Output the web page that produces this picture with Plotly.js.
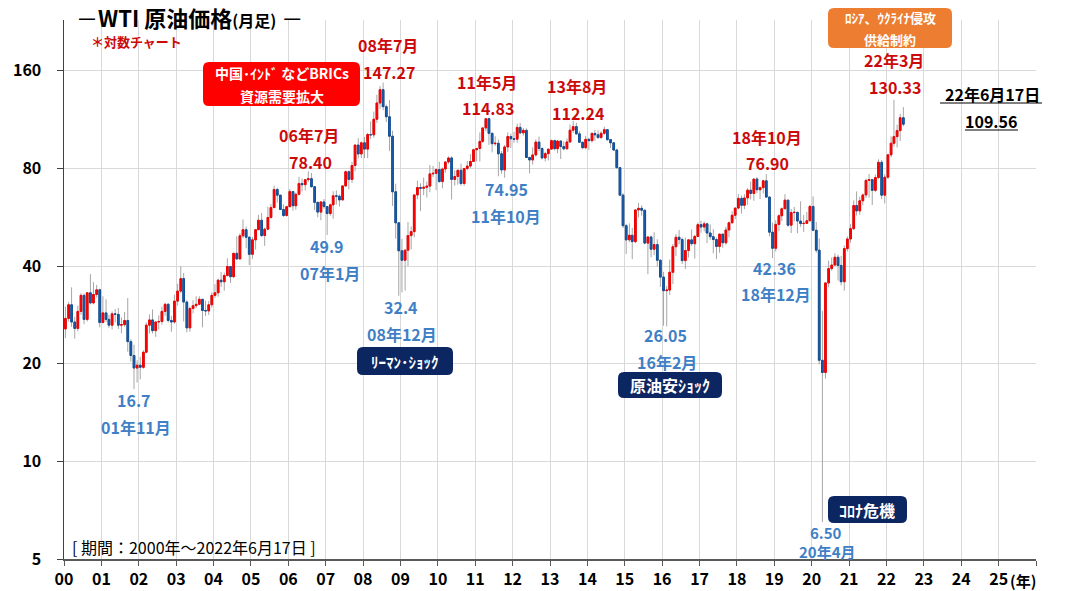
<!DOCTYPE html>
<html>
<head>
<meta charset="utf-8">
<script src="https://cdn.plot.ly/plotly-3.0.1.min.js"></script>
<style>
  body { margin: 0; background: #fff; }
  #chart { width: 1071px; height: 591px; }
</style>
</head>
<body>
<div id="chart"></div>
<script>
// WTI monthly candles, 2000-01 .. 2022-06
var openP = [
  25.6, 27.6, 30.4, 26.9, 25.7, 29.0, 32.5, 27.4, 33.1, 30.8, 32.7, 33.8, // 2000
  26.8, 28.7, 27.4, 26.3, 28.5, 28.4, 26.3, 26.4, 27.2, 23.4, 21.2, 19.4, // 2001
  19.8, 19.5, 21.7, 26.3, 27.3, 25.3, 26.9, 27.0, 29.0, 30.5, 27.2, 26.9, // 2002
  31.2, 33.5, 36.6, 31.0, 25.8, 29.6, 30.2, 30.5, 31.6, 29.2, 29.1, 30.4, // 2003
  32.5, 33.1, 36.2, 35.8, 37.4, 39.9, 37.1, 43.8, 42.1, 49.6, 51.8, 49.1, // 2004
  43.5, 48.2, 51.8, 55.4, 49.7, 52.0, 56.5, 60.6, 68.9, 66.2, 59.8, 57.3, // 2005
  61.0, 67.9, 61.4, 66.6, 71.9, 71.3, 73.9, 74.4, 70.3, 62.9, 58.7, 63.1, // 2006
  61.05, 58.1, 61.8, 65.9, 65.7, 64.0, 70.7, 78.2, 74.0, 81.7, 94.5, 88.7, // 2007
  96.0, 91.8, 101.8, 101.6, 113.5, 127.4, 140.0, 124.1, 115.5, 100.6, 67.8, 54.4, // 2008
  44.6, 41.7, 44.8, 49.7, 51.1, 66.3, 69.9, 69.5, 70.0, 70.6, 77.0, 77.3, // 2009
  79.4, 72.9, 79.7, 83.8, 86.2, 74.0, 75.6, 79.0, 71.9, 80.0, 81.4, 84.1, // 2010
  91.4, 92.2, 97.0, 106.7, 113.9, 102.7, 95.4, 95.7, 88.8, 79.2, 93.2, 100.4, // 2011
  98.8, 98.5, 107.1, 103.0, 104.9, 86.5, 85.0, 88.1, 96.5, 92.2, 86.2, 88.9, // 2012
  91.8, 97.5, 92.1, 97.2, 93.5, 92.0, 96.6, 105.0, 107.7, 102.3, 96.4, 92.7, // 2013
  98.4, 97.5, 102.6, 101.6, 99.7, 102.7, 105.4, 98.2, 96.0, 91.2, 80.5, 66.2, // 2014
  53.3, 48.2, 49.8, 47.6, 59.6, 60.3, 59.5, 47.1, 49.2, 45.1, 46.6, 41.7, // 2015
  37.0, 33.6, 33.75, 38.3, 45.9, 49.1, 48.3, 41.6, 44.7, 48.2, 46.9, 49.4, // 2016
  53.7, 52.8, 54.0, 50.6, 49.3, 48.3, 46.0, 50.2, 47.2, 51.7, 54.4, 57.4, // 2017
  60.4, 64.7, 61.6, 64.9, 68.6, 67.0, 74.2, 68.8, 69.8, 73.3, 65.3, 50.9, // 2018
  45.4, 53.8, 57.2, 60.1, 63.9, 53.5, 58.5, 58.6, 55.1, 54.1, 54.2, 55.2, // 2019
  61.1, 51.6, 44.8, 20.5, 18.8, 35.5, 39.3, 40.3, 42.6, 40.2, 35.8, 45.3, // 2020
  48.5, 52.2, 61.5, 59.2, 63.6, 66.3, 73.5, 73.95, 68.5, 75.0, 83.6, 66.2, // 2021
  75.2, 88.15, 95.7, 100.3, 104.7, 114.7                                   // 2022
];
var highP = [
  30.0, 31.0, 34.4, 27.9, 30.2, 33.0, 32.9, 33.3, 37.8, 35.7, 35.0, 34.1,
  32.3, 31.6, 28.3, 29.0, 29.5, 29.7, 27.8, 28.9, 31.9, 23.8, 22.9, 20.5,
  21.0, 22.0, 26.8, 28.4, 29.4, 27.1, 28.2, 30.0, 30.8, 30.8, 28.1, 32.7,
  35.3, 39.99, 38.1, 31.4, 30.0, 31.4, 32.3, 32.3, 31.6, 31.3, 31.2, 33.2,
  35.2, 36.6, 38.4, 38.2, 42.3, 40.0, 44.0, 49.4, 50.5, 55.7, 53.0, 49.5,
  49.2, 52.1, 57.6, 58.3, 52.6, 60.95, 62.1, 70.85, 69.8, 66.2, 62.0, 61.4,
  69.2, 68.1, 67.4, 75.4, 74.5, 74.2, 78.4, 77.5, 70.4, 63.2, 62.2, 64.4,
  61.1, 62.4, 68.1, 68.5, 66.6, 70.8, 78.8, 78.8, 83.9, 94.7, 99.3, 97.0,
  100.1, 103.0, 111.8, 119.9, 135.1, 143.7, 147.27, 126.0, 130.0, 104.6, 71.8, 54.7,
  48.6, 45.0, 54.7, 53.0, 66.4, 73.4, 72.0, 75.0, 72.9, 82.0, 81.5, 80.0,
  83.95, 80.5, 83.9, 87.2, 87.2, 79.0, 79.3, 82.8, 80.0, 84.4, 88.6, 92.1,
  92.6, 103.4, 106.9, 113.9, 114.83, 103.2, 100.6, 98.3, 90.5, 94.6, 103.4, 102.4,
  103.7, 110.0, 110.6, 106.6, 106.4, 87.0, 92.9, 98.3, 100.4, 93.0, 90.0, 91.0,
  98.2, 98.2, 97.8, 97.8, 97.0, 99.0, 109.3, 112.24, 110.7, 104.4, 96.5, 100.8,
  99.4, 103.6, 105.2, 104.9, 104.2, 107.7, 105.8, 98.7, 96.4, 92.1, 80.7, 67.1,
  54.0, 54.2, 52.5, 59.9, 62.6, 61.6, 59.7, 49.3, 49.7, 50.9, 48.4, 42.0,
  38.4, 34.7, 41.9, 46.8, 50.2, 51.7, 49.0, 49.0, 48.3, 51.9, 49.9, 54.5,
  55.2, 54.9, 54.4, 53.8, 52.0, 49.0, 50.4, 50.4, 52.9, 54.9, 59.05, 60.5,
  66.7, 66.0, 66.6, 69.6, 72.9, 74.5, 75.3, 70.4, 73.9, 76.9, 65.7, 54.55,
  55.4, 57.8, 60.7, 66.6, 63.9, 60.0, 60.9, 58.8, 63.4, 57.5, 58.8, 61.8,
  65.65, 54.7, 48.7, 29.1, 35.6, 41.6, 42.5, 43.8, 43.4, 43.0, 46.3, 49.4,
  53.9, 63.8, 67.98, 65.5, 67.0, 74.45, 76.98, 74.0, 76.7, 85.4, 84.97, 76.8,
  88.8, 100.5, 130.33, 109.2, 118.0, 123.7
];
var lowP = [
  24.0, 27.0, 26.0, 23.9, 25.2, 28.3, 26.5, 27.0, 30.5, 30.5, 32.0, 25.9,
  26.6, 26.9, 25.8, 25.5, 26.8, 25.6, 24.8, 26.0, 21.8, 20.3, 16.7, 17.5,
  17.9, 19.3, 21.7, 24.8, 24.8, 24.2, 25.5, 26.4, 28.1, 26.8, 25.1, 26.6,
  30.2, 33.0, 27.0, 25.0, 25.1, 28.6, 29.7, 30.3, 25.9, 28.1, 28.3, 29.8,
  31.9, 32.2, 34.5, 33.6, 37.2, 35.5, 36.8, 41.8, 42.0, 48.8, 45.4, 40.3,
  42.1, 45.0, 51.7, 49.2, 46.2, 51.6, 56.0, 60.5, 62.8, 59.7, 56.7, 56.8,
  60.9, 59.3, 59.7, 66.0, 68.0, 68.5, 72.8, 69.9, 59.5, 56.6, 55.4, 60.1,
  49.9, 57.2, 56.0, 61.9, 61.1, 63.8, 70.1, 69.0, 72.2, 78.5, 86.0, 86.2,
  86.1, 86.1, 98.7, 99.5, 110.6, 122.3, 121.0, 111.3, 90.5, 61.3, 48.6, 32.4,
  33.2, 33.6, 40.0, 45.0, 49.1, 64.3, 59.1, 66.2, 65.1, 67.6, 75.2, 68.6,
  72.4, 69.5, 77.6, 82.6, 64.2, 70.8, 71.3, 70.8, 70.8, 79.0, 80.2, 84.0,
  84.0, 84.1, 95.9, 104.3, 94.6, 89.7, 94.0, 75.7, 77.1, 74.95, 89.9, 92.5,
  96.0, 96.0, 102.2, 101.0, 86.3, 77.3, 82.3, 87.1, 90.5, 85.3, 84.1, 84.7,
  91.8, 90.9, 89.2, 85.6, 91.0, 91.7, 95.9, 103.0, 101.6, 95.9, 91.8, 91.9,
  91.2, 96.2, 97.4, 98.6, 98.6, 101.5, 97.4, 92.5, 90.6, 79.8, 65.7, 52.4,
  43.6, 47.4, 42.0, 47.1, 56.5, 57.2, 46.7, 37.75, 42.6, 43.2, 39.9, 34.5,
  26.2, 26.05, 32.6, 35.2, 43.0, 46.7, 40.6, 39.2, 42.5, 46.2, 42.2, 49.3,
  50.7, 51.2, 47.1, 48.2, 43.8, 42.05, 44.0, 45.6, 46.6, 49.1, 54.2, 55.8,
  59.9, 58.1, 59.95, 61.8, 64.2, 63.6, 67.0, 64.4, 67.0, 64.9, 49.4, 42.36,
  44.35, 51.2, 55.1, 60.1, 52.9, 50.6, 55.0, 50.5, 52.9, 50.99, 54.2, 55.1,
  51.3, 44.0, 19.9, 6.50, 18.0, 34.4, 38.7, 40.2, 36.1, 34.9, 33.6, 44.4,
  47.2, 51.6, 57.3, 57.6, 61.6, 64.9, 65.0, 61.7, 67.6, 74.2, 64.4, 62.4,
  74.3, 86.55, 93.5, 92.9, 97.2, 108.0
];
var closeP = [
  27.6, 30.4, 26.9, 25.7, 29.0, 32.5, 27.4, 33.1, 30.8, 32.7, 33.8, 26.8,
  28.7, 27.4, 26.3, 28.5, 28.4, 26.3, 26.4, 27.2, 23.4, 21.2, 19.4, 19.8,
  19.5, 21.7, 26.3, 27.3, 25.3, 26.9, 27.0, 29.0, 30.5, 27.2, 26.9, 31.2,
  33.5, 36.6, 31.0, 25.8, 29.6, 30.2, 30.5, 31.6, 29.2, 29.1, 30.4, 32.5,
  33.1, 36.2, 35.8, 37.4, 39.9, 37.1, 43.8, 42.1, 49.6, 51.8, 49.1, 43.5,
  48.2, 51.8, 55.4, 49.7, 52.0, 56.5, 60.6, 68.9, 66.2, 59.8, 57.3, 61.0,
  67.9, 61.4, 66.6, 71.9, 71.3, 73.9, 74.4, 70.3, 62.9, 58.7, 63.1, 61.05,
  58.1, 61.8, 65.9, 65.7, 64.0, 70.7, 78.2, 74.0, 81.7, 94.5, 88.7, 96.0,
  91.8, 101.8, 101.6, 113.5, 127.4, 140.0, 124.1, 115.5, 100.6, 67.8, 54.4, 44.6,
  41.7, 44.8, 49.7, 51.1, 66.3, 69.9, 69.5, 70.0, 70.6, 77.0, 77.3, 79.4,
  72.9, 79.7, 83.8, 86.2, 74.0, 75.6, 79.0, 71.9, 80.0, 81.4, 84.1, 91.4,
  92.2, 97.0, 106.7, 113.9, 102.7, 95.4, 95.7, 88.8, 79.2, 93.2, 100.4, 98.8,
  98.5, 107.1, 103.0, 104.9, 86.5, 85.0, 88.1, 96.5, 92.2, 86.2, 88.9, 91.8,
  97.5, 92.1, 97.2, 93.5, 92.0, 96.6, 105.0, 107.7, 102.3, 96.4, 92.7, 98.4,
  97.5, 102.6, 101.6, 99.7, 102.7, 105.4, 98.2, 96.0, 91.2, 80.5, 66.2, 53.3,
  48.2, 49.8, 47.6, 59.6, 60.3, 59.5, 47.1, 49.2, 45.1, 46.6, 41.7, 37.0,
  33.6, 33.75, 38.3, 45.9, 49.1, 48.3, 41.6, 44.7, 48.2, 46.9, 49.4, 53.7,
  52.8, 54.0, 50.6, 49.3, 48.3, 46.0, 50.2, 47.2, 51.7, 54.4, 57.4, 60.4,
  64.7, 61.6, 64.9, 68.6, 67.0, 74.2, 68.8, 69.8, 73.3, 65.3, 50.9, 45.4,
  53.8, 57.2, 60.1, 63.9, 53.5, 58.5, 58.6, 55.1, 54.1, 54.2, 55.2, 61.1,
  51.6, 44.8, 20.5, 18.8, 35.5, 39.3, 40.3, 42.6, 40.2, 35.8, 45.3, 48.5,
  52.2, 61.5, 59.2, 63.6, 66.3, 73.5, 73.95, 68.5, 75.0, 83.6, 66.2, 75.2,
  88.15, 95.7, 100.3, 104.7, 114.7, 109.56
];

var yTicks = [5, 10, 20, 40, 80, 160];
var yearLabels = ["00","01","02","03","04","05","06","07","08","09","10","11","12",
  "13","14","15","16","17","18","19","20","21","22","23","24","25",""];

// month dates for the candles
var months = [];
for (var y = 2000; y <= 2022; y++) {
  for (var m = 1; m <= 12; m++) {
    if (months.length < closeP.length) {
      months.push(y + "-" + String(m).padStart(2, "0") + "-15");
    }
  }
}
var yearTicks = [];
for (var k = 0; k < yearLabels.length; k++) yearTicks.push((2000 + k) + "-01-01");

// bodies only: high/low clipped to the body
var bodyHigh = openP.map(function (o, i) { return Math.max(o, closeP[i]); });
var bodyLow = openP.map(function (o, i) { return Math.min(o, closeP[i]); });

// plot area in pixels
var L = 64, R = 1036, T = 20, B = 559;
function px(x) { return (x - L) / (R - L); }
function py(y) { return (B - y) / (B - T); }

function rrect(x0, y0, x1, y1, r) {
  function P(x, y) { return px(x) + "," + py(y); }
  return "M" + P(x0 + r, y0) + " L" + P(x1 - r, y0) + " Q" + P(x1, y0) + " " + P(x1, y0 + r) +
    " L" + P(x1, y1 - r) + " Q" + P(x1, y1) + " " + P(x1 - r, y1) +
    " L" + P(x0 + r, y1) + " Q" + P(x0, y1) + " " + P(x0, y1 - r) +
    " L" + P(x0, y0 + r) + " Q" + P(x0, y0) + " " + P(x0 + r, y0) + " Z";
}
function box(x0, y0, x1, y1, color) {
  return { type: "path", xref: "paper", yref: "paper", path: rrect(x0, y0, x1, y1, 6),
    fillcolor: color, line: { width: 0 }, layer: "above" };
}
function label(text, x, y, color, size, anchor) {
  return { text: text, xref: "paper", yref: "paper", x: px(x), y: py(y),
    xanchor: anchor || "center", yanchor: "middle", showarrow: false,
    font: { family: "Noto Sans CJK JP", size: size || 16, color: color } };
}

var RED = "#cc0a0a", BLUE = "#3f7fc6", NAVY = "#0c2661";

var traces = [
  {
    type: "candlestick", x: months, open: openP, high: highP, low: lowP, close: closeP,
    increasing: { line: { color: "#a6a6a6", width: 1 }, fillcolor: "#a6a6a6" },
    decreasing: { line: { color: "#a6a6a6", width: 1 }, fillcolor: "#a6a6a6" },
    hoverinfo: "skip", showlegend: false
  },
  {
    type: "candlestick", x: months, open: openP, high: bodyHigh, low: bodyLow, close: closeP,
    increasing: { line: { color: "#f00000", width: 1 }, fillcolor: "#ff0000" },
    decreasing: { line: { color: "#104e96", width: 1 }, fillcolor: "#1a5fae" },
    hoverinfo: "skip", showlegend: false
  }
];

var layout = {
  width: 1071, height: 591,
  margin: { l: L, r: 1071 - R, t: T, b: 591 - B },
  paper_bgcolor: "#fff", plot_bgcolor: "#fff",
  showlegend: false, hovermode: false, boxgap: 0.15,
  font: { family: "Noto Sans CJK JP", color: "#000" },
  xaxis: {
    type: "date", range: ["2000-01-01", "2026-01-01"],
    tickmode: "array", tickvals: yearTicks, ticktext: yearLabels,
    showgrid: true, gridcolor: "#d9d9d9", gridwidth: 1,
    showline: true, linecolor: "#595959", linewidth: 1.5,
    ticks: "outside", ticklen: 5, tickcolor: "#595959",
    tickfont: { size: 16, color: "#000", weight: "bold" },
    rangeslider: { visible: false }, fixedrange: true
  },
  yaxis: {
    type: "log", range: [Math.log10(5), Math.log10(229.6)],
    tickmode: "array", tickvals: yTicks, ticktext: yTicks.map(String),
    showgrid: true, gridcolor: "#d9d9d9", gridwidth: 1,
    showline: true, linecolor: "#404040", linewidth: 1.5,
    ticks: "outside", ticklen: 6, tickcolor: "#404040",
    ticklabelstandoff: 12,
    tickfont: { size: 16, color: "#000", weight: "bold" },
    fixedrange: true
  },
  shapes: [
    box(203, 62, 360, 106, "#ff0000"),
    box(357, 347, 453, 375, NAVY),
    box(618, 372, 722, 398, NAVY),
    box(828, 496, 907, 523, NAVY),
    box(828, 8, 952, 48, "#ed7d31"),
    { type: "line", xref: "paper", yref: "paper", x0: px(940), x1: px(1042), y0: py(103), y1: py(103),
      line: { color: "#000", width: 1 } },
    { type: "line", xref: "paper", yref: "paper", x0: px(965), x1: px(1018), y0: py(130), y1: py(130),
      line: { color: "#000", width: 1 } }
  ],
  annotations: [
    label("－<b>WTI 原油価格</b><span style='font-size:16px'><b>(月足)</b></span> －", 74, 17, "#000", 22, "left"),
    label("<b>＊対数チャート</b>", 89, 41, RED, 13, "left"),
    label("<b>中国･ｲﾝﾄﾞ などBRICs</b>", 282, 73, "#fff", 14),
    label("<b>資源需要拡大</b>", 282, 96, "#fff", 14),
    label("<b>ﾛｼｱ、ｳｸﾗｲﾅ侵攻</b>", 890, 18, "#fff", 13),
    label("<b>供給制約</b>", 890, 40, "#fff", 13),
    label("<b>ﾘｰﾏﾝ･ｼｮｯｸ</b>", 405, 361, "#fff", 15),
    label("<b>原油安ｼｮｯｸ</b>", 670, 385, "#fff", 16),
    label("<b>ｺﾛﾅ危機</b>", 867, 510, "#fff", 16),

    label("<b>08年7月</b>", 388, 45, RED),
    label("<b>147.27</b>", 389, 72, RED),
    label("<b>06年7月</b>", 309, 135, RED),
    label("<b>78.40</b>", 310, 162, RED),
    label("<b>11年5月</b>", 487, 82, RED),
    label("<b>114.83</b>", 488, 108, RED),
    label("<b>13年8月</b>", 577, 86, RED),
    label("<b>112.24</b>", 578, 113, RED),
    label("<b>18年10月</b>", 767, 137, RED),
    label("<b>76.90</b>", 767, 163, RED),
    label("<b>22年3月</b>", 894, 60, RED),
    label("<b>130.33</b>", 895, 87, RED),

    label("<b>16.7</b>", 134, 400, BLUE),
    label("<b>01年11月</b>", 136, 427, BLUE),
    label("<b>49.9</b>", 327, 246, BLUE),
    label("<b>07年1月</b>", 330, 273, BLUE),
    label("<b>32.4</b>", 401, 307, BLUE),
    label("<b>08年12月</b>", 402, 334, BLUE),
    label("<b>74.95</b>", 506, 189, BLUE),
    label("<b>11年10月</b>", 506, 216, BLUE),
    label("<b>26.05</b>", 665, 335, BLUE),
    label("<b>16年2月</b>", 667, 362, BLUE),
    label("<b>42.36</b>", 774, 268, BLUE),
    label("<b>18年12月</b>", 776, 294, BLUE),
    label("<b>6.50</b>", 826, 532, BLUE, 15),
    label("<b>20年4月</b>", 827, 551, BLUE, 15),

    label("<b>22年6月17日</b>", 992, 94, "#000"),
    label("<b>109.56</b>", 991, 121, "#000"),
    label("[ 期間：2000年～2022年6月17日 ]", 70, 547, "#000", 16, "left"),
    label("<b>(年)</b>", 1008, 580, "#000", 15, "left")
  ]
};

Plotly.newPlot("chart", traces, layout, { displayModeBar: false, staticPlot: true });
</script>
</body>
</html>
